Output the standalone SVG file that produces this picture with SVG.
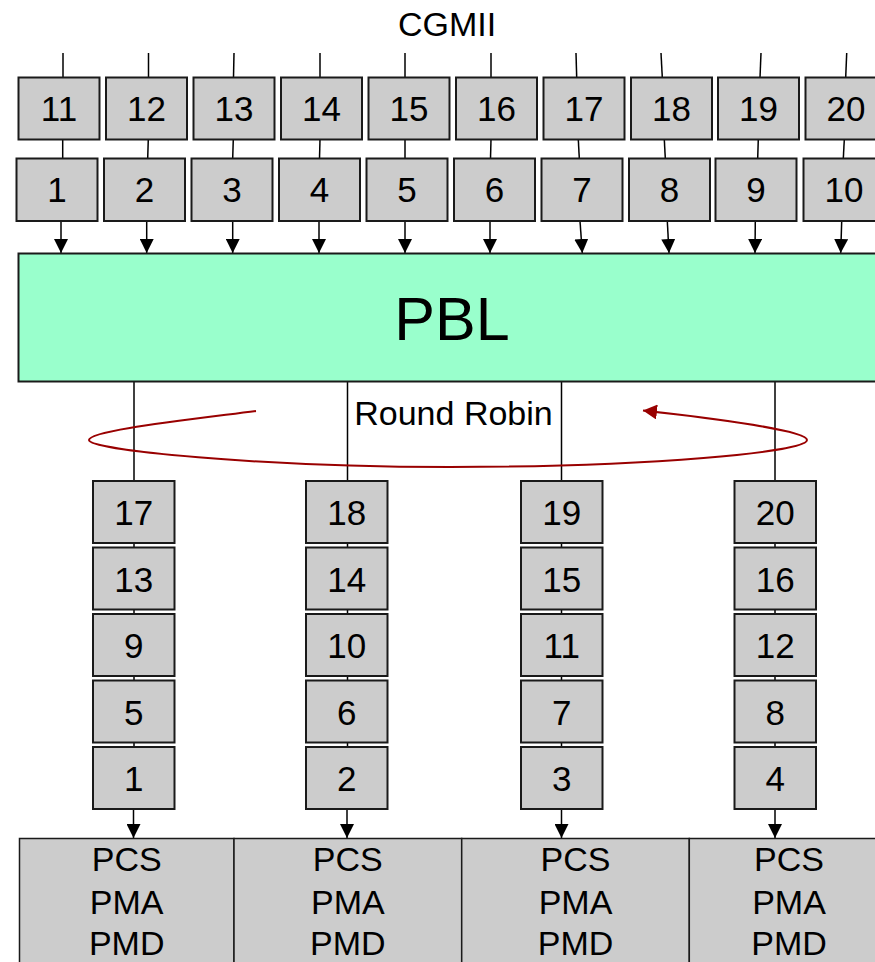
<svg xmlns="http://www.w3.org/2000/svg" width="875" height="962" viewBox="0 0 875 962">
<style>
.box{fill:#cccccc;stroke:#1a1a1a;stroke-width:2}
.t{font-family:"Liberation Sans",Arial,sans-serif;font-size:34px;fill:#000;text-anchor:middle}
.n{font-size:35px}
.ln{stroke:#000;stroke-width:1.5;fill:none}
.ar{stroke:#000;stroke-width:1.5;fill:none;marker-end:url(#ah)}
</style>
<defs>
<marker id="ah" markerUnits="userSpaceOnUse" markerWidth="14" markerHeight="14" refX="14" refY="7" orient="auto">
<path d="M0,0 L14,7 L0,14 z" fill="#000"/>
</marker>
<marker id="rh" markerUnits="userSpaceOnUse" markerWidth="15" markerHeight="15" refX="14" refY="7.5" orient="auto">
<path d="M0,0 L14,7.5 L0,15 z" fill="#990000"/>
</marker>
</defs>
<rect width="875" height="962" fill="#fff"/>
<text class="t" x="447" y="36">CGMII</text>
<g id="connectors">
<line class="ln" x1="63" y1="53" x2="63" y2="77.5"/>
<line class="ln" x1="148.5" y1="53" x2="148.5" y2="77.5"/>
<line class="ln" x1="234" y1="53" x2="233.5" y2="77.5"/>
<line class="ln" x1="320" y1="53" x2="320" y2="77.5"/>
<line class="ln" x1="405" y1="53" x2="405" y2="77.5"/>
<line class="ln" x1="491" y1="53" x2="491" y2="77.5"/>
<line class="ln" x1="576" y1="53" x2="576.7" y2="77.5"/>
<line class="ln" x1="661" y1="53" x2="662.3" y2="77.5"/>
<line class="ln" x1="761" y1="53" x2="760" y2="77.5"/>
<line class="ln" x1="846.7" y1="53" x2="845.7" y2="77.5"/>
<line class="ln" x1="62.7" y1="139.5" x2="62.7" y2="158.5"/>
<line class="ln" x1="148.3" y1="139.5" x2="147.7" y2="158.5"/>
<line class="ln" x1="233.3" y1="139.5" x2="232.7" y2="158.5"/>
<line class="ln" x1="320" y1="139.5" x2="319.5" y2="158.5"/>
<line class="ln" x1="405" y1="139.5" x2="405" y2="158.5"/>
<line class="ln" x1="491" y1="139.5" x2="490.5" y2="158.5"/>
<line class="ln" x1="578.3" y1="139.5" x2="579.3" y2="158.5"/>
<line class="ln" x1="664.3" y1="139.5" x2="665.3" y2="158.5"/>
<line class="ln" x1="758.3" y1="139.5" x2="757.7" y2="158.5"/>
<line class="ln" x1="844.3" y1="139.5" x2="843.3" y2="158.5"/>
<line class="ar" x1="61" y1="221" x2="61" y2="253"/>
<line class="ar" x1="146.7" y1="221" x2="146.7" y2="253"/>
<line class="ar" x1="232.7" y1="221" x2="232.7" y2="253"/>
<line class="ar" x1="319" y1="221" x2="319" y2="253"/>
<line class="ar" x1="405" y1="221" x2="405" y2="253"/>
<line class="ar" x1="490" y1="221" x2="490" y2="253"/>
<line class="ar" x1="580" y1="221" x2="582.3" y2="253"/>
<line class="ar" x1="667.3" y1="221" x2="669" y2="253"/>
<line class="ar" x1="755.3" y1="221" x2="755" y2="253"/>
<line class="ar" x1="841.7" y1="221" x2="840.7" y2="253"/>
<line class="ln" x1="134" y1="381" x2="134" y2="747"/>
<line class="ln" x1="347.5" y1="381" x2="347.5" y2="747"/>
<line class="ln" x1="561.5" y1="381" x2="561.5" y2="747"/>
<line class="ln" x1="775" y1="381" x2="775" y2="747"/>
<line class="ar" x1="133.5" y1="809" x2="133.5" y2="838"/>
<line class="ar" x1="347" y1="809" x2="347" y2="838"/>
<line class="ar" x1="561.5" y1="809" x2="561.5" y2="838"/>
<line class="ar" x1="775" y1="809" x2="775" y2="838"/>
<path d="M256,411 C170,422 89,431 89,440 C89,450 260,467 450,467 C650,467 807,452 807,440 C807,431 720,419 643,410.5" fill="none" stroke="#990000" stroke-width="2" marker-end="url(#rh)"/>
</g>
<g id="in-top">
<g id="q11"><rect class="box" x="18.5" y="77.5" width="81" height="62"/><text class="t n" x="59" y="121">11</text></g>
<g id="q12"><rect class="box" x="106" y="77.5" width="81" height="62"/><text class="t n" x="146.5" y="121">12</text></g>
<g id="q13"><rect class="box" x="193.5" y="77.5" width="81" height="62"/><text class="t n" x="234" y="121">13</text></g>
<g id="q14"><rect class="box" x="281" y="77.5" width="81" height="62"/><text class="t n" x="321.5" y="121">14</text></g>
<g id="q15"><rect class="box" x="368.5" y="77.5" width="81" height="62"/><text class="t n" x="409" y="121">15</text></g>
<g id="q16"><rect class="box" x="456" y="77.5" width="81" height="62"/><text class="t n" x="496.5" y="121">16</text></g>
<g id="q17"><rect class="box" x="543.5" y="77.5" width="81" height="62"/><text class="t n" x="584" y="121">17</text></g>
<g id="q18"><rect class="box" x="631" y="77.5" width="81" height="62"/><text class="t n" x="671.5" y="121">18</text></g>
<g id="q19"><rect class="box" x="718" y="77.5" width="81" height="62"/><text class="t n" x="758.5" y="121">19</text></g>
<g id="q20"><rect class="box" x="805.5" y="77.5" width="81" height="62"/><text class="t n" x="846" y="121">20</text></g>
</g>
<g id="in-bottom">
<g id="q1"><rect class="box" x="16.5" y="158.5" width="81" height="62.5"/><text class="t n" x="57" y="202">1</text></g>
<g id="q2"><rect class="box" x="104" y="158.5" width="81" height="62.5"/><text class="t n" x="144.5" y="202">2</text></g>
<g id="q3"><rect class="box" x="191.5" y="158.5" width="81" height="62.5"/><text class="t n" x="232" y="202">3</text></g>
<g id="q4"><rect class="box" x="279" y="158.5" width="81" height="62.5"/><text class="t n" x="319.5" y="202">4</text></g>
<g id="q5"><rect class="box" x="366.5" y="158.5" width="81" height="62.5"/><text class="t n" x="407" y="202">5</text></g>
<g id="q6"><rect class="box" x="454" y="158.5" width="81" height="62.5"/><text class="t n" x="494.5" y="202">6</text></g>
<g id="q7"><rect class="box" x="541.5" y="158.5" width="81" height="62.5"/><text class="t n" x="582" y="202">7</text></g>
<g id="q8"><rect class="box" x="629" y="158.5" width="81" height="62.5"/><text class="t n" x="669.5" y="202">8</text></g>
<g id="q9"><rect class="box" x="715.5" y="158.5" width="81" height="62.5"/><text class="t n" x="756" y="202">9</text></g>
<g id="q10"><rect class="box" x="803.5" y="158.5" width="81" height="62.5"/><text class="t n" x="844" y="202">10</text></g>
</g>
<g id="pbl">
<rect x="18.5" y="253.5" width="880" height="128" fill="#99ffcc" stroke="#1a1a1a" stroke-width="2"/>
<text class="t" x="452" y="340" style="font-size:61px">PBL</text>
</g>
<text class="t" x="453.5" y="425">Round Robin</text>
<g id="lane1">
<g id="l1-17"><rect class="box" x="93" y="481" width="81.5" height="62"/><text class="t n" x="133.7" y="525">17</text></g>
<g id="l1-13"><rect class="box" x="93" y="547.5" width="81.5" height="62"/><text class="t n" x="133.7" y="591.5">13</text></g>
<g id="l1-9"><rect class="box" x="93" y="614" width="81.5" height="62"/><text class="t n" x="133.7" y="658">9</text></g>
<g id="l1-5"><rect class="box" x="93" y="680.5" width="81.5" height="62"/><text class="t n" x="133.7" y="724.5">5</text></g>
<g id="l1-1"><rect class="box" x="93" y="747" width="81.5" height="62"/><text class="t n" x="133.7" y="791">1</text></g>
</g>
<g id="lane2">
<g id="l2-18"><rect class="box" x="306" y="481" width="81.5" height="62"/><text class="t n" x="346.7" y="525">18</text></g>
<g id="l2-14"><rect class="box" x="306" y="547.5" width="81.5" height="62"/><text class="t n" x="346.7" y="591.5">14</text></g>
<g id="l2-10"><rect class="box" x="306" y="614" width="81.5" height="62"/><text class="t n" x="346.7" y="658">10</text></g>
<g id="l2-6"><rect class="box" x="306" y="680.5" width="81.5" height="62"/><text class="t n" x="346.7" y="724.5">6</text></g>
<g id="l2-2"><rect class="box" x="306" y="747" width="81.5" height="62"/><text class="t n" x="346.7" y="791">2</text></g>
</g>
<g id="lane3">
<g id="l3-19"><rect class="box" x="521" y="481" width="81.5" height="62"/><text class="t n" x="561.7" y="525">19</text></g>
<g id="l3-15"><rect class="box" x="521" y="547.5" width="81.5" height="62"/><text class="t n" x="561.7" y="591.5">15</text></g>
<g id="l3-11"><rect class="box" x="521" y="614" width="81.5" height="62"/><text class="t n" x="561.7" y="658">11</text></g>
<g id="l3-7"><rect class="box" x="521" y="680.5" width="81.5" height="62"/><text class="t n" x="561.7" y="724.5">7</text></g>
<g id="l3-3"><rect class="box" x="521" y="747" width="81.5" height="62"/><text class="t n" x="561.7" y="791">3</text></g>
</g>
<g id="lane4">
<g id="l4-20"><rect class="box" x="734.5" y="481" width="81.5" height="62"/><text class="t n" x="775.2" y="525">20</text></g>
<g id="l4-16"><rect class="box" x="734.5" y="547.5" width="81.5" height="62"/><text class="t n" x="775.2" y="591.5">16</text></g>
<g id="l4-12"><rect class="box" x="734.5" y="614" width="81.5" height="62"/><text class="t n" x="775.2" y="658">12</text></g>
<g id="l4-8"><rect class="box" x="734.5" y="680.5" width="81.5" height="62"/><text class="t n" x="775.2" y="724.5">8</text></g>
<g id="l4-4"><rect class="box" x="734.5" y="747" width="81.5" height="62"/><text class="t n" x="775.2" y="791">4</text></g>
</g>
<g id="phy1"><rect class="box" style="stroke-width:1.5" x="19.5" y="838.5" width="214.5" height="140"/><text class="t" x="126.7" y="871">PCS</text><text class="t" x="126.7" y="914">PMA</text><text class="t" x="126.7" y="955">PMD</text></g>
<g id="phy2"><rect class="box" style="stroke-width:1.5" x="234" y="838.5" width="227.7" height="140"/><text class="t" x="347.8" y="871">PCS</text><text class="t" x="347.8" y="914">PMA</text><text class="t" x="347.8" y="955">PMD</text></g>
<g id="phy3"><rect class="box" style="stroke-width:1.5" x="461.7" y="838.5" width="227.6" height="140"/><text class="t" x="575.5" y="871">PCS</text><text class="t" x="575.5" y="914">PMA</text><text class="t" x="575.5" y="955">PMD</text></g>
<g id="phy4"><rect class="box" style="stroke-width:1.5" x="689.3" y="838.5" width="200" height="140"/><text class="t" x="789" y="871">PCS</text><text class="t" x="789" y="914">PMA</text><text class="t" x="789" y="955">PMD</text></g>
</svg>
